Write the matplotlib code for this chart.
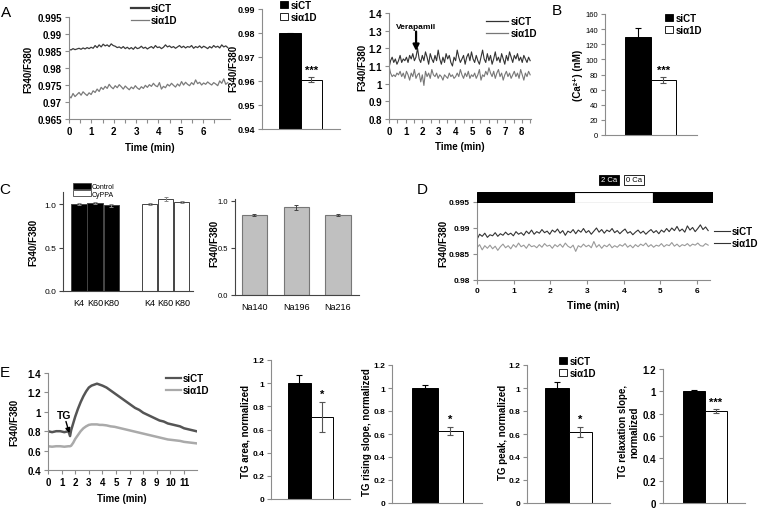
import numpy as np
import matplotlib
matplotlib.use('Agg')
import matplotlib.pyplot as plt
from matplotlib.patches import Patch
from matplotlib.lines import Line2D

plt.rcParams['font.family'] = ['Liberation Sans', 'DejaVu Sans']
plt.rcParams['font.weight'] = 'bold'

# ---------------- data ----------------
# A, left: resting ratio traces
a1_ct = [0.9855, 0.9853, 0.9857, 0.9854, 0.9856, 0.9858, 0.9855, 0.9859, 0.9856, 0.9860,
         0.9857, 0.9861, 0.9858, 0.9866, 0.9860, 0.9868, 0.9862, 0.9870, 0.9865, 0.9868,
         0.9863, 0.9871, 0.9866, 0.9864, 0.9860, 0.9862, 0.9858, 0.9863, 0.9857, 0.9861,
         0.9856, 0.9860, 0.9855, 0.9862, 0.9857, 0.9859, 0.9864, 0.9858, 0.9861, 0.9856,
         0.9860, 0.9863, 0.9858, 0.9866, 0.9860, 0.9862, 0.9857, 0.9861, 0.9868, 0.9862,
         0.9865, 0.9860, 0.9863, 0.9858, 0.9862, 0.9866, 0.9860, 0.9864, 0.9859, 0.9863,
         0.9861, 0.9866, 0.9858, 0.9863, 0.9860, 0.9865, 0.9859, 0.9864, 0.9861, 0.9857,
         0.9863, 0.9859, 0.9866, 0.9861, 0.9864, 0.9859, 0.9868, 0.9862, 0.9865, 0.9860]
a1_kd = [0.9718, 0.9712, 0.9725, 0.9716, 0.9722, 0.9728, 0.9720, 0.9730, 0.9724, 0.9719,
         0.9727, 0.9722, 0.9733, 0.9728, 0.9738, 0.9731, 0.9743, 0.9737, 0.9746, 0.9740,
         0.9752, 0.9744, 0.9739, 0.9748, 0.9742, 0.9751, 0.9745, 0.9738, 0.9747, 0.9741,
         0.9736, 0.9744, 0.9739, 0.9748, 0.9741, 0.9737, 0.9745, 0.9740, 0.9749, 0.9743,
         0.9751, 0.9746, 0.9755, 0.9748, 0.9745, 0.9757, 0.9738, 0.9746, 0.9742, 0.9752,
         0.9747, 0.9755, 0.9749, 0.9744, 0.9753, 0.9747, 0.9760, 0.9750, 0.9758, 0.9752,
         0.9748, 0.9757, 0.9751, 0.9765, 0.9754, 0.9758, 0.9750, 0.9756, 0.9752, 0.9759,
         0.9754, 0.9750, 0.9757, 0.9753, 0.9748, 0.9762, 0.9755, 0.9768, 0.9752, 0.9757]
a1_tend = 7.1

# A, middle: mean ratio
groups = ['siCT', 'siα1D']
a2_vals = [0.9798, 0.9605]
a2_errs = [0.0003, 0.0010]

# A, right: verapamil traces
a3_ct = [1.09, 1.13, 1.15, 1.12, 1.14, 1.11, 1.13, 1.16, 1.12, 1.14, 1.13, 1.15, 1.12, 1.16, 1.14,
         1.17, 1.13, 1.15, 1.20, 1.14, 1.12, 1.16, 1.13, 1.18, 1.15, 1.11, 1.17, 1.14, 1.12, 1.16,
         1.13, 1.19, 1.14, 1.11, 1.15, 1.12, 1.17, 1.14, 1.16, 1.12, 1.10, 1.15, 1.13, 1.19, 1.15,
         1.12, 1.14, 1.16, 1.11, 1.15, 1.17, 1.13, 1.18, 1.14, 1.12, 1.16, 1.13, 1.11, 1.15, 1.19,
         1.14, 1.12, 1.17, 1.13, 1.16, 1.11, 1.14, 1.18, 1.13, 1.15, 1.12, 1.17, 1.14, 1.11, 1.16,
         1.13, 1.18, 1.15, 1.12, 1.16, 1.14, 1.17, 1.13, 1.15, 1.12, 1.16, 1.14, 1.12, 1.15, 1.13]
a3_kd = [1.10, 1.06, 1.04, 1.05, 1.04, 1.06, 1.05, 1.07, 1.04, 1.06, 1.03, 1.07, 1.05, 1.02, 1.06,
         1.04, 1.08, 1.03, 1.05, 1.06, 1.01, 1.05, 0.99, 1.07, 1.04, 1.06, 1.03, 1.08, 1.05, 1.04,
         1.06, 1.03, 1.05, 1.04, 1.02, 1.05, 1.04, 1.03, 1.06, 1.04, 1.05, 1.03, 1.04, 1.06, 1.04,
         1.08, 1.05, 1.03, 1.06, 1.04, 1.07, 1.03, 1.05, 1.04, 1.06, 1.03, 1.05, 1.08, 1.02, 1.05,
         1.04, 1.07, 1.05, 1.09, 1.06, 1.04, 1.07, 1.03, 1.06, 1.08, 1.04, 1.06, 1.02, 1.05, 1.07,
         1.04, 1.06, 1.03, 1.05, 1.07, 1.04, 1.06, 1.03, 1.08, 1.05, 1.02, 1.06, 1.04, 1.07, 1.05]
a3_tend = 8.5
verapamil_t = 1.63

# B: resting calcium
b_vals = [130, 73]
b_errs = [12, 4]

# C: K+ and Na+ conditions
c1_labels = ['K4', 'K60', 'K80', 'K4', 'K60', 'K80']
c1_vals = [1.00, 1.01, 0.985, 1.00, 1.06, 1.02]
c1_errs = [0.015, 0.012, 0.012, 0.012, 0.025, 0.012]
c1_groups = ['Control', 'Control', 'Control', 'CyPPA', 'CyPPA', 'CyPPA']
c2_labels = ['Na140', 'Na196', 'Na216']
c2_vals = [0.85, 0.93, 0.85]
c2_errs = [0.012, 0.03, 0.008]

# D: 2 Ca / 0 Ca traces
d_ct = [0.9878, 0.9888, 0.9884, 0.9890, 0.9882, 0.9887, 0.9885, 0.9891, 0.9884, 0.9889,
        0.9886, 0.9892, 0.9887, 0.9890, 0.9885, 0.9893, 0.9888, 0.9891, 0.9886, 0.9894,
        0.9889, 0.9896, 0.9888, 0.9893, 0.9890, 0.9897, 0.9891, 0.9894, 0.9888, 0.9896,
        0.9892, 0.9898, 0.9890, 0.9895, 0.9886, 0.9894, 0.9891, 0.9897, 0.9889, 0.9896,
        0.9892, 0.9899, 0.9891, 0.9895, 0.9888, 0.9894, 0.9900, 0.9892, 0.9897, 0.9890,
        0.9896, 0.9893, 0.9899, 0.9891, 0.9895, 0.9889, 0.9894, 0.9898, 0.9890, 0.9893,
        0.9887, 0.9892, 0.9896, 0.9890, 0.9894, 0.9888, 0.9893, 0.9897, 0.9891, 0.9895,
        0.9889, 0.9896, 0.9892, 0.9899, 0.9893, 0.9900, 0.9895, 0.9903, 0.9894, 0.9898,
        0.9892, 0.9904, 0.9896, 0.9901, 0.9893, 0.9899, 0.9906, 0.9897, 0.9902, 0.9895]
d_kd = [0.9862, 0.9868, 0.9858, 0.9866, 0.9861, 0.9867, 0.9860, 0.9865, 0.9857, 0.9864,
        0.9869, 0.9862, 0.9866, 0.9860, 0.9868, 0.9863, 0.9871, 0.9864, 0.9867, 0.9861,
        0.9869, 0.9864, 0.9866, 0.9862, 0.9868, 0.9863, 0.9870, 0.9865, 0.9867, 0.9861,
        0.9868, 0.9864, 0.9869, 0.9863, 0.9871, 0.9865, 0.9862, 0.9867, 0.9855, 0.9866,
        0.9863, 0.9869, 0.9864, 0.9867, 0.9862, 0.9874, 0.9863, 0.9868, 0.9861, 0.9867,
        0.9864, 0.9869, 0.9862, 0.9866, 0.9863, 0.9868, 0.9865, 0.9870, 0.9863, 0.9867,
        0.9862, 0.9868, 0.9864, 0.9869, 0.9866, 0.9871, 0.9864, 0.9868, 0.9863, 0.9867,
        0.9865, 0.9870, 0.9864, 0.9868, 0.9866, 0.9872, 0.9865, 0.9869, 0.9864, 0.9868,
        0.9866, 0.9870, 0.9865, 0.9869, 0.9867, 0.9871, 0.9866, 0.9865, 0.9870, 0.9867]
d_tend = 6.3
cond_edges = [0, 2.64, 4.8, 6.43]
cond_names = ['2 Ca', '0 Ca', '2 Ca']

# E: thapsigargin response (x in tick positions, labels skip 6)
e_x = [0, 0.3, 0.6, 0.9, 1.2, 1.5, 1.62, 1.7, 1.85, 2.0, 2.2, 2.4, 2.6, 2.8, 3.0, 3.2, 3.4,
       3.6, 3.8, 4.0, 4.3, 4.6, 4.9, 5.2, 5.5, 5.8, 6.1, 6.4, 6.7, 7.0, 7.3, 7.6, 7.9, 8.2,
       8.5, 8.8, 9.1, 9.4, 9.7, 10.0, 10.3, 10.6, 10.9]
e_ct = [0.80, 0.79, 0.80, 0.80, 0.79, 0.80, 0.75, 0.81, 0.88, 0.95, 1.03, 1.10, 1.16, 1.21,
        1.25, 1.27, 1.28, 1.29, 1.28, 1.27, 1.25, 1.22, 1.19, 1.16, 1.13, 1.10, 1.07, 1.04,
        1.02, 0.99, 0.97, 0.95, 0.93, 0.91, 0.90, 0.88, 0.87, 0.86, 0.85, 0.83, 0.82, 0.81, 0.80]
e_kd = [0.645, 0.64, 0.645, 0.645, 0.64, 0.645, 0.645, 0.65, 0.68, 0.72, 0.76, 0.80, 0.83,
        0.85, 0.865, 0.87, 0.87, 0.87, 0.865, 0.865, 0.86, 0.85, 0.845, 0.835, 0.825, 0.815,
        0.805, 0.795, 0.785, 0.775, 0.765, 0.755, 0.745, 0.735, 0.725, 0.715, 0.71, 0.705,
        0.70, 0.69, 0.685, 0.68, 0.675]
e_tick_labels = ['0', '1', '2', '3', '4', '5', '7', '8', '9', '10', '11']
tg_pos = 1.62

e_names = ['TG area, normalized', 'TG rising slope, normalized',
           'TG peak, normalized', 'TG relaxation slope,\nnormalized']
e_vals = [[1.0, 0.71], [1.0, 0.63], [1.0, 0.615], [1.0, 0.825]]
e_errs = [[0.07, 0.13], [0.03, 0.035], [0.055, 0.045], [0.015, 0.015]]
e_stars = ['*', '*', '*', '***']

# ---------------- layout helpers ----------------
W, H = 760, 510
fig = plt.figure(figsize=(7.6, 5.1), dpi=100)
AXC = '#8c8c8c'


def px_axes(l, t, r, b):
    return fig.add_axes([l / W, 1 - b / H, (r - l) / W, (b - t) / H])


def ftext(x, y, s, **kw):
    kw.setdefault('ha', 'center')
    kw.setdefault('va', 'center')
    return fig.text(x / W, 1 - y / H, s, **kw)


def excel(ax, fs=7, color=AXC):
    for s in ['top', 'right']:
        ax.spines[s].set_visible(False)
    for s in ['left', 'bottom']:
        ax.spines[s].set_color(color)
        ax.spines[s].set_linewidth(0.8)
    ax.tick_params(which='both', direction='out', length=3, width=0.8, color=color,
                   labelsize=fs, pad=2)


def line_legend(ax, x, y, colors, widths, fs=7, hl=1.8):
    hs = [Line2D([], [], color=c, lw=w) for c, w in zip(colors, widths)]
    ax.legend(hs, groups, loc='upper left', bbox_to_anchor=(x / W, 1 - y / H),
              bbox_transform=fig.transFigure, frameon=False, fontsize=fs,
              handlelength=hl, handletextpad=0.2, borderpad=0, labelspacing=0.25,
              borderaxespad=0)


def square_legend(ax, x, y, fs=7):
    hs = [Patch(fc='black', ec='black', lw=0.6), Patch(fc='white', ec='black', lw=0.6)]
    ax.legend(hs, groups, loc='upper left', bbox_to_anchor=(x / W, 1 - y / H),
              bbox_transform=fig.transFigure, frameon=False, fontsize=fs,
              handlelength=0.8, handleheight=0.8, handletextpad=0.25, borderpad=0,
              labelspacing=0.2, borderaxespad=0)


def pair_bars(l, t, r, b, bl, br, vals, errs, ymax, step, ymin=0, fs=6, stars=''):
    ax = px_axes(l, t, r, b)
    unit = (br - bl) / 2
    ax.bar([0.5, 1.5], vals, width=1.0, color=['black', 'white'], edgecolor='black',
           linewidth=0.7, zorder=2)
    ax.errorbar([0.5], vals[:1], yerr=errs[:1], fmt='none', ecolor='black',
                elinewidth=0.8, capsize=2, capthick=0.8, zorder=3)
    ax.errorbar([1.5], vals[1:], yerr=errs[1:], fmt='none', ecolor='#555555',
                elinewidth=0.8, capsize=2, capthick=0.8, zorder=3)
    ax.set_xlim(-(bl - l) / unit, (r - bl) / unit)
    ax.set_ylim(ymin, ymax)
    yt = np.arange(ymin, ymax + step / 2, step)
    ax.set_yticks(yt, ['{:g}'.format(round(v, 4)) for v in yt])
    ax.set_xticks([])
    excel(ax, fs)
    if stars:
        ax.text(1.5, vals[1] + errs[1] + (ymax - ymin) * 0.02, stars, ha='center',
                va='bottom', fontsize=8)
    return ax


arrow_kw = dict(arrowstyle='-|>', color='black', shrinkA=0, shrinkB=0)

# ---------------- A ----------------
ftext(6, 13, 'A', fontsize=11, fontweight='normal')

ax = px_axes(69, 18, 230, 120)
t = np.linspace(0, a1_tend, len(a1_ct))
ax.plot(t, a1_ct, color='#3a3a3a', lw=0.9)
ax.plot(t, a1_kd, color='#7a7a7a', lw=0.9)
ax.set_xlim(0, 7.2)
ax.set_ylim(0.965, 0.995)
ax.set_xticks(range(7))
ax.set_xticks(np.arange(0.5, 7, 1), minor=True)
ax.set_yticks(np.arange(0.965, 0.9951, 0.005), ['0.965', '0.97', '0.975', '0.98', '0.985', '0.99', '0.995'])
excel(ax, 7)
line_legend(ax, 131, 4, ['#3a3a3a', '#7a7a7a'], [1.6, 0.9])
ftext(28, 69, 'F340/F380', rotation=90, fontsize=7)
ftext(150, 148, 'Time (min)', fontsize=7)

ax = pair_bars(262, 10, 340, 130, 279, 322, a2_vals, a2_errs, 0.99, 0.01, ymin=0.94,
               fs=6.5, stars='***')
square_legend(ax, 280, 1)
ftext(233, 68, 'F340/F380', rotation=90, fontsize=7)

ax = px_axes(389, 14, 531, 120)
t = np.linspace(0, a3_tend, len(a3_ct))
ax.plot(t, a3_ct, color='#333333', lw=0.8)
ax.plot(t, a3_kd, color='#777777', lw=0.8)
ax.set_xlim(0, 8.55)
ax.set_ylim(0.8, 1.4)
ax.set_xticks(range(9))
ax.set_xticks(np.arange(0.5, 8.6, 1), minor=True)
ax.set_yticks(np.arange(0.8, 1.41, 0.1), ['0.8', '0.9', '1', '1.1', '1.2', '1.3', '1.4'])
excel(ax, 7)
ax.annotate('', xy=(verapamil_t, 1.185), xytext=(verapamil_t, 1.295),
            arrowprops=dict(lw=1.6, mutation_scale=9, **arrow_kw))
ax.text(verapamil_t, 1.305, 'Verapamil', ha='center', va='bottom', fontsize=6)
line_legend(ax, 486, 17, ['#333333', '#777777'], [0.9, 0.9], hl=2.3)
ftext(362, 67, 'F340/F380', rotation=90, fontsize=7)
ftext(460, 147, 'Time (min)', fontsize=7)

# ---------------- B ----------------
ftext(557, 11, 'B', fontsize=11, fontweight='normal')
ax = pair_bars(605, 15, 697, 136, 625, 676, b_vals, b_errs, 160, 20, fs=5.5, stars='***')
for lab in ax.get_yticklabels():
    lab.set_fontweight('normal')
square_legend(ax, 665, 14, fs=7)
ftext(578, 75, '(Ca²⁺) (nM)', rotation=90, fontsize=7)

# ---------------- C ----------------
ftext(5, 190, 'C', fontsize=11, fontweight='normal')
ax = px_axes(63, 193, 193, 292)
c1_x = [1, 2, 3, 5.4, 6.4, 7.4]
c1_fc = ['black' if g == 'Control' else 'white' for g in c1_groups]
ax.bar(c1_x, c1_vals, width=0.95, color=c1_fc, edgecolor='#444444', linewidth=0.7)
ax.errorbar(c1_x, c1_vals, yerr=c1_errs, fmt='none', ecolor='#888888', elinewidth=0.7,
            capsize=1.5, capthick=0.7)
ax.set_xlim(0, 8.1)
ax.set_ylim(0, 1.14)
ax.set_yticks([0, 0.5, 1.0], ['0.0', '0.5', '1.0'])
ax.set_xticks(c1_x, c1_labels)
excel(ax, 6, color='#444444')
ax.tick_params(axis='x', length=0, labelsize=6.5, pad=5)
for lab in ax.get_xticklabels() + ax.get_yticklabels():
    lab.set_fontweight('normal')
hs = [Patch(fc='black', ec='#444444', lw=0.6), Patch(fc='white', ec='#444444', lw=0.6)]
ax.legend(hs, ['Control', 'CyPPA'], loc='upper left', bbox_to_anchor=(73 / W, 1 - 184 / H),
          bbox_transform=fig.transFigure, frameon=False,
          prop={'weight': 'normal', 'size': 5}, handlelength=2.6, handleheight=0.9,
          handletextpad=0.1, borderpad=0, labelspacing=0.0, borderaxespad=0)
ftext(33, 242, 'F340/F380', rotation=90, fontsize=7)

ax = px_axes(235, 200, 359, 296)
ax.bar(range(3), c2_vals, width=0.6, color='#c0c0c0', edgecolor='#777777', linewidth=0.8)
ax.errorbar(range(3), c2_vals, yerr=c2_errs, fmt='none', ecolor='#444444', elinewidth=0.7,
            capsize=1.5, capthick=0.7)
ax.set_xlim(-0.46, 2.5)
ax.set_ylim(0, 1.02)
ax.set_yticks([0, 0.5, 1.0], ['0.0', '0.5', '1.0'])
ax.set_xticks(range(3), c2_labels)
excel(ax, 5.5, color='#444444')
ax.tick_params(axis='x', length=0, labelsize=6.5, pad=5)
for lab in ax.get_xticklabels() + ax.get_yticklabels():
    lab.set_fontweight('normal')
ftext(214, 243, 'F340/F380', rotation=90, fontsize=7)

# ---------------- D ----------------
ftext(422, 190, 'D', fontsize=11, fontweight='normal')
ax = px_axes(477, 203, 710, 281)
t = np.linspace(0, d_tend, len(d_ct))
ax.plot(t, d_ct, color='#333333', lw=0.8)
ax.plot(t, d_kd, color='#999999', lw=0.8)
ax.set_xlim(0, 6.35)
ax.set_ylim(0.98, 0.995)
ax.set_xticks(range(7))
ax.set_yticks([0.98, 0.985, 0.99, 0.995], ['0.98', '0.985', '0.99', '0.995'])
excel(ax, 6)
line_legend(ax, 714, 227, ['#333333', '#333333'], [0.8, 0.8], hl=1.6)
ftext(443, 243, 'F340/F380', rotation=90, fontsize=7)
ftext(593, 306, 'Time (min)', fontsize=7.5)

axc = px_axes(477, 193, 713, 204)
widths = np.diff(cond_edges)
cond_fc = ['black' if n == '2 Ca' else 'white' for n in cond_names]
axc.barh(0, widths, left=cond_edges[:-1], height=1, color=cond_fc, edgecolor='black', lw=0.8)
axc.set_xlim(0, (713 - 477) / ((710 - 477) / 6.35))
axc.set_ylim(-0.5, 0.5)
axc.axis('off')
ftext(609, 181, '2 Ca', fontsize=5.5, fontweight='normal', color='white',
      bbox=dict(boxstyle='square,pad=0.25', fc='black', ec='black', lw=0.6))
ftext(634, 181, '0 Ca', fontsize=5.5, fontweight='normal', color='black',
      bbox=dict(boxstyle='square,pad=0.25', fc='white', ec='black', lw=0.6))

# ---------------- E ----------------
ftext(5, 373, 'E', fontsize=11, fontweight='normal')
ax = px_axes(48, 374, 197, 471)
ax.plot(e_x, e_ct, color='#555555', lw=1.8)
ax.plot(e_x, e_kd, color='#aaaaaa', lw=1.8)
ax.set_xlim(0, 10.95)
ax.set_ylim(0.4, 1.4)
ax.set_xticks(range(11), e_tick_labels)
ax.set_yticks(np.arange(0.4, 1.41, 0.2), ['0.4', '0.6', '0.8', '1', '1.2', '1.4'])
excel(ax, 7)
ax.annotate('', xy=(tg_pos - 0.05, 0.78), xytext=(tg_pos - 0.3, 0.9),
            arrowprops=dict(lw=1.0, mutation_scale=7, **arrow_kw))
ax.text(tg_pos - 0.45, 0.92, 'TG', ha='center', va='bottom', fontsize=7.5)
line_legend(ax, 166, 374, ['#555555', '#aaaaaa'], [1.6, 1.6], hl=1.5)
ftext(14, 422, 'F340/F380', rotation=90, fontsize=7)
ftext(122, 499, 'Time (min)', fontsize=7)

e_boxes = [(271, 361, 350, 500, 288, 333), (392, 366, 482, 504, 412, 463),
           (527, 366, 610, 504, 545, 592), (663, 370, 745, 504, 683, 727)]
e_ylab_x = [246, 367, 503, 629]
for i, (l, tp, r, b, bl, br) in enumerate(e_boxes):
    ax = pair_bars(l, tp, r, b, bl, br, e_vals[i], e_errs[i], 1.2, 0.2, fs=6 if i < 3 else 7,
                   stars=e_stars[i])
    ftext(e_ylab_x[i], 432, e_names[i], rotation=90, fontsize=7)
    if i == 2:
        square_legend(ax, 559, 357)

fig.savefig('out.png', dpi=100)
